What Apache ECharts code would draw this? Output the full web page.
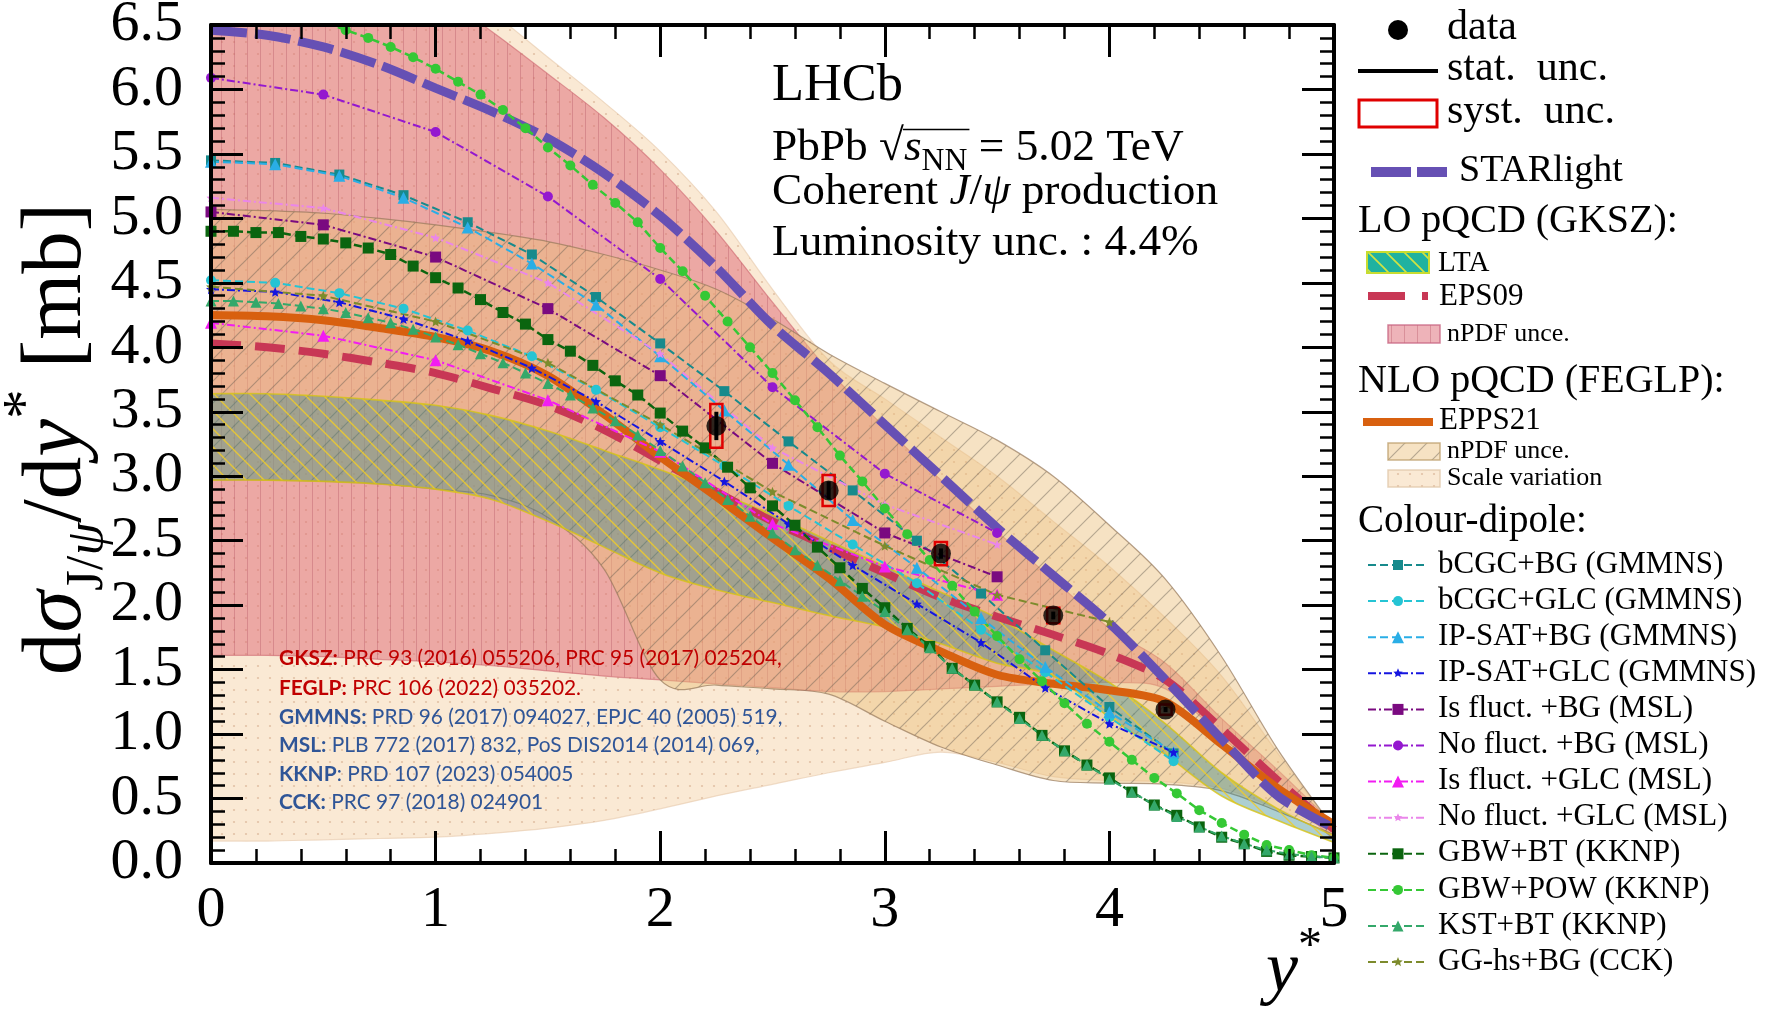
<!DOCTYPE html>
<html><head><meta charset="utf-8">
<script src="https://cdn.jsdelivr.net/npm/echarts/dist/echarts.min.js"></script>
<style>html,body{margin:0;padding:0;background:#fff}#c{width:1770px;height:1021px}</style>
</head><body><div id="c"></div>
<script>
// ---------------- DATA ----------------
const xTickLabels = ['0','1','2','3','4','5'];
const yTickLabels = ['0.0','0.5','1.0','1.5','2.0','2.5','3.0','3.5','4.0','4.5','5.0','5.5','6.0','6.5'];

// LHCb data
const xData   = [2.25, 2.75, 3.25, 3.75, 4.25];
const yData   = [3.39, 2.89, 2.40, 1.92, 1.19];
const statErr = [0.11, 0.07, 0.04, 0.03, 0.02];
const systErr = [0.17, 0.12, 0.09, 0.06, 0.04];

// theory grid for STARlight / pQCD curves and bands
const xTheory = [0,0.25,0.5,0.75,1,1.25,1.5,1.75,2,2.25,2.5,2.75,3,3.25,3.5,3.75,4,4.25,4.5,4.75,5];
const starlight = [6.46,6.42,6.33,6.19,6.01,5.83,5.62,5.35,5.02,4.62,4.17,3.80,3.40,3.00,2.60,2.23,1.86,1.42,0.96,0.52,0.27];
const eps09     = [4.03,4.00,3.95,3.88,3.80,3.68,3.55,3.36,3.12,2.88,2.65,2.45,2.25,2.06,1.91,1.77,1.62,1.42,1.04,0.64,0.26];
const epps21    = [4.25,4.24,4.21,4.15,4.08,3.97,3.78,3.48,3.15,2.84,2.52,2.21,1.85,1.64,1.46,1.39,1.34,1.25,0.92,0.58,0.30];
// bands
const scaleLo = [0.17,0.17,0.18,0.19,0.20,0.23,0.27,0.33,0.42,0.52,0.61,0.70,0.78,0.86,0.78,0.67,0.64,0.63,0.58,0.42,0.24];
const scaleHi = [7.60,7.55,7.35,7.15,6.90,6.60,6.25,5.90,5.52,5.05,4.45,3.90,3.60,3.30,3.00,2.65,2.30,1.90,1.45,0.85,0.26];
const gkszLo  = [1.61,1.61,1.60,1.58,1.56,1.53,1.49,1.45,1.42,1.39,1.36,1.33,1.33,1.35,1.37,1.39,1.40,1.35,0.98,0.58,0.18];
const gkszHi  = [7.50,7.40,7.20,7.00,6.75,6.45,6.12,5.78,5.38,4.90,4.35,3.82,3.38,2.97,2.57,2.20,1.82,1.55,1.12,0.72,0.30];
const feglpLo = [2.97,2.97,2.96,2.94,2.90,2.85,2.68,2.28,1.42,1.38,1.35,1.31,1.10,0.90,0.76,0.64,0.62,0.61,0.56,0.40,0.22];
const feglpHi = [5.07,5.06,5.04,5.00,4.95,4.89,4.82,4.72,4.60,4.45,4.22,3.95,3.72,3.50,3.28,3.00,2.62,2.20,1.60,0.88,0.27];
const ltaLo   = [2.97,2.97,2.96,2.94,2.90,2.82,2.65,2.45,2.25,2.12,2.02,1.92,1.83,1.70,1.55,1.45,1.13,0.84,0.52,0.33,0.16];
const ltaHi   = [3.64,3.64,3.62,3.59,3.55,3.47,3.35,3.20,3.05,2.88,2.70,2.50,2.30,2.10,1.90,1.65,1.40,1.08,0.70,0.42,0.21];

// colour-dipole models
const xGMMNS = [0,0.2857,0.5714,0.8571,1.1429,1.4286,1.7143,2.0,2.2857,2.5714,2.8571,3.1429,3.4286,3.7143,4.0,4.2857];
const bcgcBG   = [5.45,5.43,5.34,5.18,4.97,4.72,4.39,4.03,3.66,3.27,2.89,2.50,2.09,1.65,1.21,0.85];
const bcgcGLC  = [4.52,4.50,4.42,4.30,4.13,3.93,3.67,3.38,3.08,2.77,2.47,2.17,1.81,1.48,1.13,0.79];
const ipsatBG  = [5.44,5.42,5.33,5.16,4.93,4.65,4.33,3.93,3.51,3.09,2.66,2.29,1.90,1.52,1.17,0.86];
const ipsatGLC = [4.45,4.43,4.35,4.22,4.05,3.84,3.58,3.27,2.96,2.63,2.31,2.01,1.71,1.36,1.08,0.86];
const xMSL = [0,0.5,1,1.5,2,2.5,3,3.5];
const isFlucBG  = [5.05,4.95,4.70,4.30,3.78,3.10,2.56,2.22];
const noFlucBG  = [6.09,5.96,5.67,5.17,4.53,3.69,3.02,2.56];
const isFlucGLC = [4.19,4.09,3.90,3.59,3.19,2.63,2.30,2.08];
const noFlucGLC = [5.16,5.08,4.85,4.50,3.95,3.22,2.78,2.47];
const xKKNP = [0,0.1,0.2,0.3,0.4,0.5,0.6,0.7,0.8,0.9,1.0,1.1,1.2,1.3,1.4,1.5,1.6,1.7,1.8,1.9,2.0,2.1,2.2,2.3,2.4,2.5,2.6,2.7,2.8,2.9,3.0,3.1,3.2,3.3,3.4,3.5,3.6,3.7,3.8,3.9,4.0,4.1,4.2,4.3,4.4,4.5,4.6,4.7,4.8,4.9,5.0];
const gbwBT  = [4.90,4.90,4.89,4.89,4.86,4.84,4.81,4.77,4.72,4.63,4.54,4.46,4.37,4.27,4.18,4.06,3.97,3.86,3.74,3.63,3.49,3.35,3.22,3.07,2.91,2.77,2.62,2.45,2.29,2.13,1.98,1.82,1.68,1.51,1.38,1.25,1.13,0.99,0.87,0.76,0.66,0.55,0.45,0.37,0.28,0.20,0.15,0.09,0.06,0.05,0.04];
const gbwPOW = [6.75,6.73,6.70,6.65,6.59,6.53,6.46,6.40,6.33,6.25,6.16,6.06,5.96,5.84,5.70,5.55,5.41,5.26,5.12,4.97,4.77,4.59,4.40,4.20,4.00,3.80,3.59,3.38,3.16,2.96,2.75,2.55,2.35,2.15,1.95,1.76,1.58,1.41,1.24,1.08,0.94,0.80,0.66,0.54,0.41,0.31,0.22,0.14,0.10,0.06,0.04];
const kstBT  = [4.36,4.36,4.35,4.34,4.32,4.30,4.27,4.23,4.19,4.14,4.08,4.02,3.95,3.88,3.80,3.72,3.63,3.53,3.43,3.32,3.20,3.08,2.95,2.82,2.69,2.56,2.43,2.31,2.19,2.07,1.95,1.81,1.67,1.51,1.38,1.25,1.12,0.99,0.87,0.76,0.65,0.55,0.45,0.36,0.28,0.21,0.15,0.10,0.07,0.05,0.04];
const xCCK = [0,0.5,1,1.5,2,2.5,3,3.5,4];
const ggBG = [4.47,4.40,4.20,3.88,3.40,2.88,2.46,2.08,1.87];

// ---------------- STYLES ----------------
const SERIF = "'Liberation Serif', serif";
const STAR = 'path://M10,0L12.6,6.4L19.5,6.9L14.3,11.4L15.9,18.1L10,14.5L4.1,18.1L5.7,11.4L0.5,6.9L7.4,6.4Z';
const dipoles = [
  {label:'bCGC+BG (GMMNS)',     xs:xGMMNS, ys:bcgcBG,   color:'#178a8c', sym:'rect',     size:10, dash:[8,4],     w:2},
  {label:'bCGC+GLC (GMMNS)',    xs:xGMMNS, ys:bcgcGLC,  color:'#25c4d4', sym:'circle',   size:10, dash:[8,4],     w:2},
  {label:'IP-SAT+BG (GMMNS)',   xs:xGMMNS, ys:ipsatBG,  color:'#2aaee6', sym:'triangle', size:12, dash:[8,4],     w:2},
  {label:'IP-SAT+GLC (GMMNS)',  xs:xGMMNS, ys:ipsatGLC, color:'#1515e0', sym:'star',     size:10, dash:[8,3,2,3], w:2},
  {label:'Is fluct. +BG (MSL)', xs:xMSL,   ys:isFlucBG, color:'#7a0a80', sym:'rect',     size:11, dash:[8,3,2,3], w:2},
  {label:'No fluct. +BG (MSL)', xs:xMSL,   ys:noFlucBG, color:'#9418cf', sym:'circle',   size:10, dash:[8,3,2,3], w:2},
  {label:'Is fluct. +GLC (MSL)',xs:xMSL,   ys:isFlucGLC,color:'#f21cf2', sym:'triangle', size:12, dash:[8,3,2,3], w:2},
  {label:'No fluct. +GLC (MSL)',xs:xMSL,   ys:noFlucGLC,color:'#ea86ea', sym:'star',     size:9,  dash:[8,3,2,3], w:2},
  {label:'GBW+BT (KKNP)',       xs:xKKNP,  ys:gbwBT,    color:'#0b650f', sym:'rect',     size:11, dash:[8,4],     w:2.5},
  {label:'GBW+POW (KKNP)',      xs:xKKNP,  ys:gbwPOW,   color:'#35c835', sym:'circle',   size:10, dash:[8,4],     w:2.5},
  {label:'KST+BT (KKNP)',       xs:xKKNP,  ys:kstBT,    color:'#34a86a', sym:'triangle', size:11, dash:[8,4],     w:2},
  {label:'GG-hs+BG (CCK)',      xs:xCCK,   ys:ggBG,     color:'#7d8b2c', sym:'star',     size:10, dash:[8,4],     w:2}
];

function mkPat(w,h,fn){const c=document.createElement('canvas');c.width=w;c.height=h;const g=c.getContext('2d');fn(g,w,h);return {image:c,repeat:'repeat'};}
const patS = mkPat(12,12,(g,w,h)=>{g.fillStyle='rgba(245,212,172,0.52)';g.fillRect(0,0,w,h);g.fillStyle='rgba(205,160,130,0.55)';g.beginPath();g.arc(6,6,1.1,0,Math.PI*2);g.fill();});
const patP = mkPat(13,13,(g,w,h)=>{g.fillStyle='rgba(222,104,116,0.5)';g.fillRect(0,0,w,h);g.fillStyle='rgba(175,70,90,0.32)';g.fillRect(0,0,1,h);});
const patH = mkPat(22,22,(g,w,h)=>{g.fillStyle='rgba(234,190,122,0.45)';g.fillRect(0,0,w,h);g.strokeStyle='rgba(105,95,85,0.45)';g.lineWidth=1.2;g.beginPath();g.moveTo(-2,h+2);g.lineTo(w+2,-2);g.moveTo(-2,2);g.lineTo(2,-2);g.moveTo(w-2,h+2);g.lineTo(w+2,h-2);g.stroke();});
const patL = mkPat(18,18,(g,w,h)=>{g.fillStyle='rgba(50,135,140,0.40)';g.fillRect(0,0,w,h);g.strokeStyle='rgba(240,205,40,0.85)';g.lineWidth=1.4;g.beginPath();g.moveTo(-2,-2);g.lineTo(w+2,h+2);g.moveTo(w-2,-2);g.lineTo(w+2,2);g.moveTo(-2,h-2);g.lineTo(2,h+2);g.stroke();});
const patLleg = mkPat(18,18,(g,w,h)=>{g.fillStyle='rgb(32,178,160)';g.fillRect(0,0,w,h);g.strokeStyle='rgba(220,230,60,0.95)';g.lineWidth=1.6;g.beginPath();g.moveTo(-2,-2);g.lineTo(w+2,h+2);g.moveTo(w-2,-2);g.lineTo(w+2,2);g.moveTo(-2,h-2);g.lineTo(2,h+2);g.stroke();});

function crPath(pts, move){
  let d = (move?'M':'L') + pts[0][0] + ',' + pts[0][1];
  for (let i=0;i<pts.length-1;i++){
    const p0=pts[Math.max(i-1,0)], p1=pts[i], p2=pts[i+1], p3=pts[Math.min(i+2,pts.length-1)];
    const t=1/6;
    d += 'C'+(p1[0]+(p2[0]-p0[0])*t)+','+(p1[1]+(p2[1]-p0[1])*t)+','+(p2[0]-(p3[0]-p1[0])*t)+','+(p2[1]-(p3[1]-p1[1])*t)+','+p2[0]+','+p2[1];
  }
  return d;
}
function bandSeries(lo, hi, fill, stroke, edge){
  return {
    type:'custom', z:1, silent:true, clip:true, data:[[0,0]], encode:{x:0,y:1},
    renderItem: function(params, api){
      const up = xTheory.map((x,i)=>api.coord([x,hi[i]]));
      const dn = xTheory.map((x,i)=>api.coord([x,lo[i]])).reverse();
      const d = crPath(up,true)+crPath(dn,false)+'Z';
      const children=[{type:'path', shape:{pathData:d}, style:{fill:fill, stroke:stroke, lineWidth:1.2}}];
      if (edge){
        children.push({type:'path', shape:{pathData:crPath(up,true)}, style:{fill:null, stroke:edge, lineWidth:1.6}});
        children.push({type:'path', shape:{pathData:crPath(dn,true)}, style:{fill:null, stroke:edge, lineWidth:1.6}});
      }
      return {type:'group', children:children};
    }
  };
}
function lineSeries(xs, ys, color, width, dash, z){
  return {type:'line', data:xs.map((x,i)=>[x,ys[i]]), symbol:'none', smooth:0.3, clip:true, z:z, silent:true,
    lineStyle:{color:color, width:width, type:dash}, emphasis:{disabled:true}};
}
function symOf(s){return s==='star'?STAR:s;}

const series = [
  bandSeries(scaleLo, scaleHi, patS, 'rgba(230,200,170,0.6)'),
  bandSeries(gkszLo, gkszHi, patP, 'rgba(205,100,110,0.6)'),
  bandSeries(feglpLo, feglpHi, patH, 'rgba(150,120,90,0.7)'),
  bandSeries(ltaLo, ltaHi, patL, 'rgba(0,0,0,0)', 'rgba(215,195,20,0.8)'),
  lineSeries(xTheory, eps09, '#c83755', 8, [30,14], 3),
  lineSeries(xTheory, epps21, '#d8600f', 8, 'solid', 4),
  lineSeries(xTheory, starlight, '#6650b4', 9, [36,8], 5)
];
dipoles.forEach(d=>{
  series.push({type:'line', data:d.xs.map((x,i)=>[x,d.ys[i]]), symbol:symOf(d.sym), symbolSize:d.size,
    showSymbol:true, showAllSymbol:true, clip:true, z:6, silent:true,
    lineStyle:{color:d.color, width:d.w, type:d.dash}, itemStyle:{color:d.color, borderWidth:0}, emphasis:{disabled:true}});
});
series.push({
  type:'custom', z:9, silent:true, clip:true,
  data:xData.map((x,i)=>[x,yData[i],statErr[i],systErr[i]]), encode:{x:0,y:1},
  renderItem:function(params, api){
    const x=api.value(0), y=api.value(1), st=api.value(2), sy=api.value(3);
    const a=api.coord([x-0.027,y+sy]), b=api.coord([x+0.027,y-sy]);
    const s1=api.coord([x,y+st]), s2=api.coord([x,y-st]);
    return {type:'group', children:[
      {type:'rect', shape:{x:a[0],y:a[1],width:b[0]-a[0],height:b[1]-a[1]}, style:{fill:null, stroke:'#e00000', lineWidth:2.5}},
      {type:'line', shape:{x1:s1[0],y1:s1[1],x2:s2[0],y2:s2[1]}, style:{stroke:'#000', lineWidth:4}}
    ]};
  }
});
series.push({type:'scatter', data:xData.map((x,i)=>[x,yData[i]]), symbol:'circle', symbolSize:20, z:10, silent:true,
  itemStyle:{color:'#000'}, emphasis:{disabled:true}});

// ---------------- TEXT HELPERS ----------------
const mctx = document.createElement('canvas').getContext('2d');
const MID = {'serif':0.3375, 'sans':0.387};
function fam(s){return s.sans?"Lato, 'Open Sans', sans-serif":SERIF;}
function fstr(s){return (s.style||'normal')+' '+(s.weight||'normal')+' '+s.size+'px '+fam(s);}
function tw(s){mctx.font=fstr(s);return mctx.measureText(s.t).width;}
function layout(segs, x0, base, z){
  let x=x0; const els=[];
  segs.forEach(s=>{
    const mid = s.sans?MID.sans:MID.serif;
    els.push({type:'text', x:x, y:base+(s.dy||0)-mid*s.size, z:z||50, silent:true,
      style:{text:s.t, font:fstr(s), fill:s.fill||'#000', align:'left', verticalAlign:'middle'}});
    x+=tw(s);
  });
  return {els:els, width:x-x0};
}
function widthOf(segs){return segs.reduce((a,s)=>a+tw(s),0);}

const G = [];
// y axis title (rotated)
(function(){
  const mk = F => [
    {t:'d', size:F},{t:'σ', size:F, style:'italic'},{t:'J/', size:0.62*F, dy:0.24*F},{t:'ψ', size:0.62*F, dy:0.24*F, style:'italic'},
    {t:'/d', size:F},{t:'y', size:F, style:'italic'},{t:'*', size:0.7*F, dy:-0.45*F},{t:' [mb]', size:F}];
  let F=70; F = F*472/widthOf(mk(F));
  const L = layout(mk(F), 0, 0);
  G.push({type:'group', x:86, y:675, rotation:Math.PI/2, children:L.els, z:50});
})();
// x axis title
G.push(...layout([{t:'y', size:72, style:'italic'},{t:'*', size:48, dy:-32}], 1266, 996).els);

// LHCb block
(function(){
  const lhcb=[{t:'LHCb', size:50}];
  const f0 = 50*131/widthOf(lhcb);
  G.push(...layout([{t:'LHCb', size:f0}], 772, 104).els);
  const lum=s=>[{t:'Luminosity unc. : 4.4%', size:s}];
  const F = 42*427/widthOf(lum(42));
  const pb = [{t:'PbPb ', size:F},{t:'√', size:F},{t:'s', size:F, style:'italic'},{t:'NN', size:0.7*F, dy:0.2*F},{t:' = 5.02 TeV', size:F}];
  const Lp = layout(pb, 772, 163);
  G.push(...Lp.els);
  const xs = 772 + tw(pb[0]) + tw(pb[1]) - 1;
  const xe = xs + tw(pb[2]) + tw(pb[3]) + 3;
  G.push({type:'line', shape:{x1:xs, y1:163-0.74*F, x2:xe, y2:163-0.74*F}, style:{stroke:'#000', lineWidth:1.6}, z:50, silent:true});
  G.push(...layout([{t:'Coherent ', size:F},{t:'J', size:F, style:'italic'},{t:'/', size:F},{t:'ψ', size:F, style:'italic'},{t:' production', size:F}], 772, 207).els);
  G.push(...layout(lum(F), 772, 258).els);
})();

// references block
(function(){
  const red='#c00000', blue='#2f5597';
  const lines = [
    [['GKSZ:', ' PRC 93 (2016) 055206, PRC 95 (2017) 025204,'], red],
    [['FEGLP:', ' PRC 106 (2022) 035202.'], red],
    [['GMMNS:', ' PRD 96 (2017) 094027, EPJC 40 (2005) 519,'], blue],
    [['MSL:', ' PLB 772 (2017) 832, PoS DIS2014 (2014) 069,'], blue],
    [['KKNP', ': PRD 107 (2023) 054005'], blue],
    [['CCK:', ' PRC 97 (2018) 024901'], blue]
  ];
  const bases=[666,696,725,753,782,810];
  const mk=(l,F)=>[{t:l[0][0], size:F, weight:'bold', sans:true, fill:l[1]},{t:l[0][1], size:F, sans:true, fill:l[1]}];
  const F = 20*503/widthOf(mk(lines[0],20));
  lines.forEach((l,i)=>G.push(...layout(mk(l,F), 279, bases[i], 40).els));
})();

// ---------------- LEGEND ----------------
function marker(sym,cx,cy,s,color){
  if(sym==='rect') return {type:'rect', shape:{x:cx-s/2,y:cy-s/2,width:s,height:s}, style:{fill:color}, z:60, silent:true};
  if(sym==='circle') return {type:'circle', shape:{cx:cx,cy:cy,r:s/2}, style:{fill:color}, z:60, silent:true};
  if(sym==='triangle') return {type:'polygon', shape:{points:[[cx,cy-s/2],[cx+s/2,cy+s/2],[cx-s/2,cy+s/2]]}, style:{fill:color}, z:60, silent:true};
  const pts=[]; for(let k=0;k<10;k++){const a=-Math.PI/2+k*Math.PI/5; const r=(k%2?0.45:1)*s/2; pts.push([cx+r*Math.cos(a),cy+r*Math.sin(a)]);}
  return {type:'polygon', shape:{points:pts}, style:{fill:color}, z:60, silent:true};
}
function lline(x1,x2,y,color,w,dash){return {type:'line', shape:{x1:x1,y1:y,x2:x2,y2:y}, style:{stroke:color, lineWidth:w, lineDash:dash||null}, z:60, silent:true};}
function lrect(x,y,w,h,fill,stroke,lw){return {type:'rect', shape:{x:x,y:y,width:w,height:h}, style:{fill:fill, stroke:stroke, lineWidth:lw||1}, z:60, silent:true};}
G.push({type:'circle', shape:{cx:1398,cy:30,r:10}, style:{fill:'#000'}, z:60, silent:true});
G.push(...layout([{t:'data', size:42}], 1447, 42).els);
G.push(lline(1358,1438,71,'#000',4));
G.push(...layout([{t:'stat.  unc.', size:42}], 1447, 83).els);
G.push(lrect(1359,100,78,27,'#fff','#e00000',3));
G.push(...layout([{t:'syst.  unc.', size:42}], 1447, 126).els);
G.push(lline(1371,1447,172,'#6650b4',10,[40,6]));
G.push(...layout([{t:'STARlight', size:38}], 1459, 184).els);
G.push(...layout([{t:'LO pQCD (GKSZ):', size:40}], 1358, 235).els);
G.push(lrect(1367,252,62,21,patLleg,'#c8dc30',2));
G.push(...layout([{t:'LTA', size:29}], 1438, 273).els);
G.push(lline(1368,1428,296,'#c83755',8,[37,17]));
G.push(...layout([{t:'EPS09', size:31}], 1439, 307).els);
G.push(lrect(1388,325,52,18,patP,'rgba(200,100,130,0.8)',1.5));
G.push(...layout([{t:'nPDF unce.', size:26}], 1447, 343).els);
G.push(...layout([{t:'NLO pQCD (FEGLP):', size:40}], 1358, 395).els);
G.push(lline(1363,1433,422,'#d8600f',8));
G.push(...layout([{t:'EPPS21', size:31}], 1439, 431).els);
G.push(lrect(1388,443,52,17,patH,'rgba(190,160,110,0.8)',1.5));
G.push(...layout([{t:'nPDF unce.', size:26}], 1447, 460).els);
G.push(lrect(1388,470,52,17,patS,'rgba(225,200,170,0.8)',1.5));
G.push(...layout([{t:'Scale variation', size:26}], 1447, 487).els);
G.push(...layout([{t:'Colour-dipole:', size:39}], 1358, 535).els);
dipoles.forEach((d,i)=>{
  const y = 565 + 36.1*i;
  G.push(lline(1368,1427,y,d.color,2,d.dash));
  G.push(marker(d.sym,1398,y,d.size,d.color));
  G.push(...layout([{t:d.label, size:31}], 1438, y+10).els);
});

// ---------------- AXES ----------------
function axis(kind, pos, show){
  const isX = kind==='x';
  return {
    type:'value', position:pos, min:0, max:isX?5:6.5, interval:isX?1:0.5, z:30,
    axisLine:{show:true, onZero:false, lineStyle:{color:'#000', width:4}},
    axisTick:{show:true, inside:true, length:32, lineStyle:{color:'#000', width:3}},
    minorTick:{show:true, splitNumber:5, length:14, lineStyle:{color:'#000', width:2.5}},
    splitLine:{show:false}, minorSplitLine:{show:false},
    axisLabel:{show:show, margin:isX?19:28, fontFamily:SERIF, fontSize:58, color:'#000',
      showMinLabel:true, showMaxLabel:true,
      formatter:isX?(v=>xTickLabels[Math.round(v)]):(v=>yTickLabels[Math.round(v*2)])}
  };
}
const chart = echarts.init(document.getElementById('c'), null, {renderer:'canvas'});
chart.setOption({
  animation:false,
  backgroundColor:'#ffffff',
  grid:{left:211, top:25, width:1123, height:838, containLabel:false, outerBoundsMode:'none'},
  xAxis:[axis('x','bottom',true), axis('x','top',false)],
  yAxis:[axis('y','left',true), axis('y','right',false)],
  series:series,
  graphic:{elements:G}
});
</script></body></html>
